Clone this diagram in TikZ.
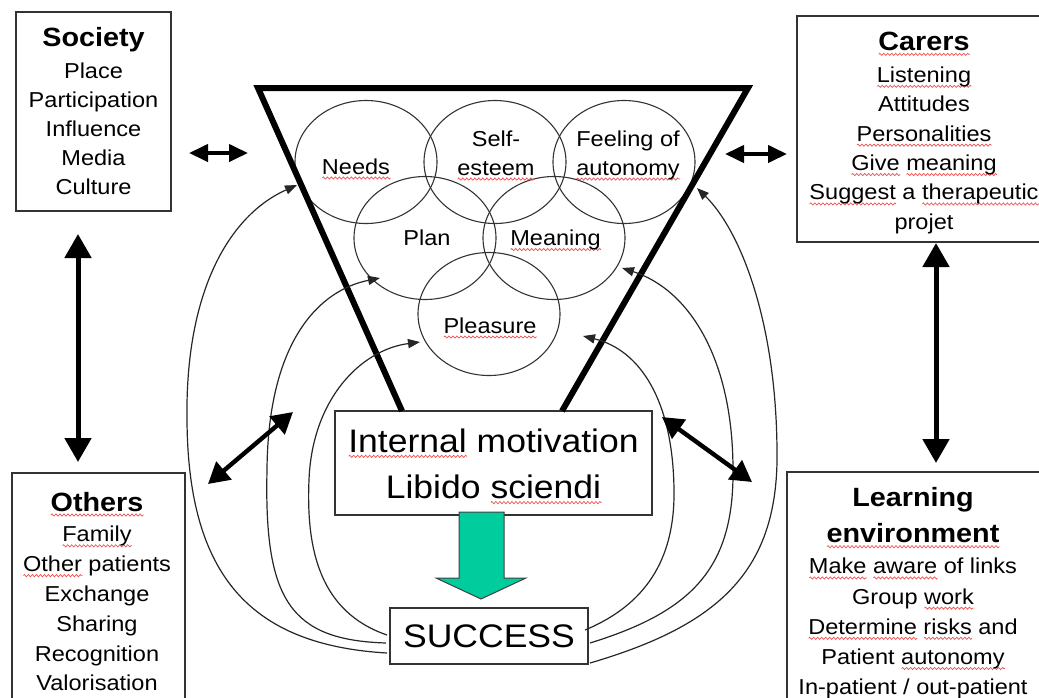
\documentclass[tikz,border=0pt]{standalone}
\usepackage{fontspec}
\setmainfont{Liberation Sans}[FakeStretch=1.09]
\usetikzlibrary{arrows.meta,shapes.geometric,calc,decorations.pathmorphing}
\definecolor{sqred}{RGB}{240,80,80}
\definecolor{arrowfill}{RGB}{0,204,158}
\newsavebox\sqbox
\newdimen\sqwd
\newcommand\sq[1]{\sbox\sqbox{#1}\sqwd=\wd\sqbox\leavevmode\rlap{\tikz[x=1pt,y=1pt,baseline=0pt]\draw[sqred,line width=0.35pt,decorate,decoration={zigzag,amplitude=0.55pt,segment length=2pt}] (0pt,-2pt) -- (\the\sqwd,-2pt);}\usebox\sqbox\relax}
\newcommand\boxtitle[1]{{\fontsize{13.2}{14.7}\selectfont\bfseries #1}}
\begin{document}
\begin{tikzpicture}[x=0.5pt,y=-0.5pt,
  frame/.style={draw=black!80,line width=0.6pt,inner sep=0pt,outer sep=0pt},
  body/.style={align=center,inner sep=0pt,font=\fontsize{10.8}{14.7}\selectfont},
  ring/.style={draw=black!80,line width=0.55pt,ellipse,inner sep=0pt,minimum width=71pt,minimum height=61.5pt},
  clabel/.style={align=center,inner sep=0pt,font=\fontsize{10.8}{14.5}\selectfont},
  big/.style={align=center,inner sep=0pt,font=\fontsize{16.3}{23.15}\selectfont},
  feedback/.style={line width=0.6pt,draw=black!85,-{Triangle[length=6pt,width=4.6pt]}},
  dblh/.style={line width=2pt,{Triangle[length=9.5pt,width=8.5pt]}-{Triangle[length=9.5pt,width=8.5pt]}},
  dblv/.style={line width=2.5pt,{Triangle[length=12pt,width=13pt]}-{Triangle[length=12pt,width=13pt]}},
  dbld/.style={line width=2.2pt,{Triangle[length=10.5pt,width=11.5pt]}-{Triangle[length=10.5pt,width=11.5pt]}},
  funnel/.style={line width=3pt,line join=miter}
]
\useasboundingbox (0,0) rectangle (1039,697);
\clip (0,0) rectangle (1039,697);

% outer boxes
\node[frame,minimum width=77.5pt,minimum height=99.5pt] (society) at (93.5,111.5) {};
\node[body,anchor=north,font=\fontsize{10.8}{14.5}\selectfont] (societytxt) at (93.5,27)
  {\boxtitle{Society}\\[1.5pt]Place\\Participation\\Influence\\Media\\Culture};

\node[frame,minimum width=127pt,minimum height=113pt] (carers) at (924,129) {};
\node[body,anchor=north] (carerstxt) at (924,31.5)
  {\boxtitle{\sq{Carers}}\\[1.3pt]\sq{Listening}\\Attitudes\\\sq{Personalities}\\\sq{Give} \sq{meaning}\\\sq{Suggest} a \sq{therapeutic}\\projet};

\node[frame,minimum width=86.5pt,minimum height=117pt] (others) at (98.5,590) {};
\node[body,anchor=north,font=\fontsize{10.8}{14.9}\selectfont] (otherstxt) at (97,491.5)
  {\boxtitle{\sq{Others}}\\[0.5pt]\sq{Family}\\\sq{Other} patients\\Exchange\\Sharing\\Recognition\\Valorisation};

\node[frame,minimum width=136.5pt,minimum height=119.5pt] (learning) at (923.5,591.5) {};
\node[body,anchor=north,font=\fontsize{10.8}{15.1}\selectfont] (learningtxt) at (913,486.5)
  {\boxtitle{Learning}\\[3.25pt]\boxtitle{\sq{environment}}\\[0.5pt]\sq{Make} \sq{aware} of links\\Group \sq{work}\\\sq{Determine} \sq{risks} and\\Patient \sq{autonomy}\\In-patient / out-patient};

% circles
\node[ring] (needs) at (366,162) {};
\node[ring] (selfesteem) at (495,162) {};
\node[ring] (autonomy) at (624,162) {};
\node[ring] (plan) at (425,238) {};
\node[ring] (meaning) at (554,238) {};
\node[ring] (pleasure) at (489,314) {};

\node[clabel,anchor=base] (needslbl) at (356,174) {\sq{Needs}};
\node[clabel,anchor=north] (selflbl) at (496,130) {Self-\\\sq{esteem}};
\node[clabel,anchor=north] (autolbl) at (628,130) {Feeling of\\\sq{autonomy}};
\node[clabel,anchor=base] (planlbl) at (427,245.5) {Plan};
\node[clabel,anchor=base] (meaninglbl) at (555.5,245.5) {\sq{Meaning}};
\node[clabel,anchor=base] (pleasurelbl) at (490,333) {\sq{Pleasure}};

% central boxes
\node[frame,minimum width=158.5pt,minimum height=52pt] (intm) at (493.5,463) {};
\node[big,anchor=north] (intmtxt) at (493.5,428.3) {\sq{Internal} motivation\\Libido \sq{sciendi}};
\node[frame,big,minimum width=99pt,minimum height=28pt] (success) at (489,636) {SUCCESS};

% funnel
\coordinate (fTL) at (258,88);
\coordinate (fTR) at (748,88);
\coordinate (fBL) at (402,411);
\coordinate (fBR) at (562,411);
\draw[funnel] (fBL) -- (fTL) -- (fTR) -- (fBR);

% feedback curves
\coordinate (tA) at (297,185);
\coordinate (tB) at (380,278);
\coordinate (tC) at (420,342);
\coordinate (tD) at (697,188);
\coordinate (tE) at (622,268);
\coordinate (tF) at (583,336);
\draw[feedback] ($(success.west)+(-3,17)$) .. controls (250,645) and (188,575) .. (187,420) .. controls (185,290) and (230,215) .. (tA);
\draw[feedback] ($(success.west)+(-4,7)$) .. controls (290,640) and (264,600) .. (267,470) .. controls (268,340) and (320,290) .. (tB);
\draw[feedback] ($(success.west)+(-3,-1)$) .. controls (320,612) and (306,550) .. (309,480) .. controls (312,400) and (360,350) .. (tC);
\draw[feedback] ($(success.east)+(2,27)$) .. controls (720,625) and (779,570) .. (777,450) .. controls (776,320) and (740,230) .. (tD);
\draw[feedback] ($(success.east)+(2,7)$) .. controls (690,612) and (734,570) .. (733,470) .. controls (733,360) and (690,290) .. (tE);
\draw[feedback] ($(success.east)+(-3,-6)$) .. controls (645,605) and (675,560) .. (674,490) .. controls (673,400) and (640,350) .. (tF);

% double arrows
\coordinate (h1a) at (189,153);
\coordinate (h1b) at (248,153);
\coordinate (h2a) at (725,154);
\coordinate (h2b) at (787,154);
\coordinate (v1a) at (78,234);
\coordinate (v1b) at (78,462);
\coordinate (v2a) at (936,243);
\coordinate (v2b) at (936,463);
\coordinate (d1a) at (208,484);
\coordinate (d1b) at (293,412);
\coordinate (d2a) at (662,417);
\coordinate (d2b) at (752,482);
\draw[dblh] (h1a) -- (h1b);
\draw[dblh] (h2a) -- (h2b);
\draw[dblv] (v1a) -- (v1b);
\draw[dblv] (v2a) -- (v2b);
\draw[dbld] (d1a) -- (d1b);
\draw[dbld] (d2a) -- (d2b);

% green arrow
\draw[fill=arrowfill,draw=black!75,line width=0.5pt] (459,512) -- (504,512) -- (504,578) -- (526,578) -- (481,599) -- (436,578) -- (459,578) -- cycle;
\end{tikzpicture}
\end{document}
